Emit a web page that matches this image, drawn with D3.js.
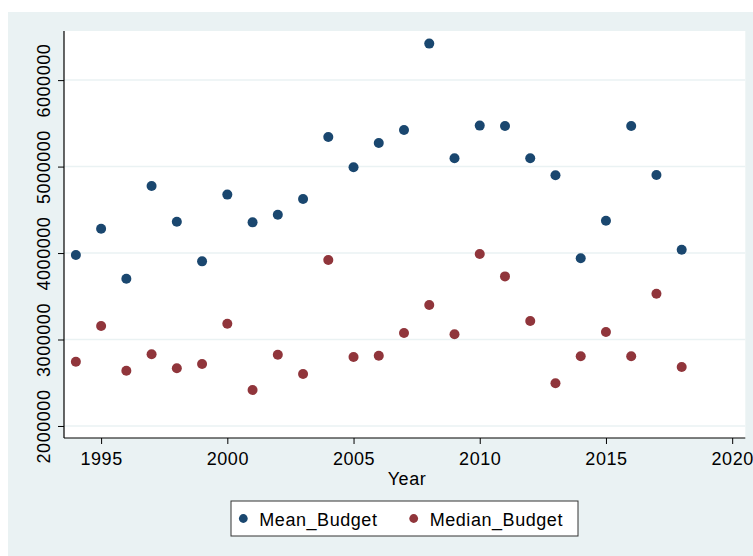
<!DOCTYPE html>
<html>
<head>
<meta charset="utf-8">
<script src="https://cdn.jsdelivr.net/npm/d3@7"></script>
<style>
  html, body { margin: 0; padding: 0; background: #ffffff; }
  svg { display: block; font-family: "Liberation Sans", Arial, Helvetica, sans-serif; }
</style>
</head>
<body>
<svg id="chart" width="753" height="556"></svg>
<script>
const years = [1994,1995,1996,1997,1998,1999,2000,2001,2002,2003,2004,2005,2006,2007,2008,2009,2010,2011,2012,2013,2014,2015,2016,2017,2018];
const meanBudget = [3977000,4281000,3703000,4776000,4362000,3904000,4676000,4355000,4443000,4625000,5342000,4992000,5273000,5423000,6422000,5096000,5474000,5470000,5096000,4900000,3939000,4374000,5469000,4903000,4038000];
const medianBudget = [2743000,3156000,2639000,2829000,2667000,2717000,3183000,2416000,2824000,2601000,3919000,2798000,2813000,3075000,3399000,3060000,3988000,3730000,3215000,2494000,2807000,3087000,2807000,3530000,2682000];
const xTicks = [1995,2000,2005,2010,2015,2020];
const yTicks = [2000000,3000000,4000000,5000000,6000000];
const seriesNames = ["Mean_Budget","Median_Budget"];
const seriesColors = ["#1a476f","#90353b"];

(function () {
const svg = d3.select("#chart");
const W = 753, H = 556;
const FS = "18px", LS = "0.55px";

// outer graph region
svg.append("rect").attr("x", 8).attr("y", 12).attr("width", W - 8).attr("height", H - 12).attr("fill", "#eaf2f3");

const pL = 64, pR = 745.3, pT = 31, pB = 438;
svg.append("rect").attr("x", pL).attr("y", pT).attr("width", pR - pL).attr("height", pB - pT).attr("fill", "#ffffff");

const x = d3.scaleLinear().domain([1993.53, 2020.52]).range([pL, pR]);
const y = d3.scaleLinear().domain([1861000, 6568000]).range([pB, pT]);

// grid lines
svg.append("g").selectAll("line").data(yTicks).join("line")
  .attr("x1", pL).attr("x2", pR)
  .attr("y1", d => y(d)).attr("y2", d => y(d))
  .attr("stroke", "#eaf2f3").attr("stroke-width", 1.5);

// y axis
const yAxis = d3.axisLeft(y).tickValues(yTicks).tickSize(6).tickSizeOuter(0).tickFormat(d3.format("d"));
const gy = svg.append("g").attr("transform", `translate(${pL},0)`).call(yAxis);
gy.select(".domain").attr("stroke", "#000").attr("stroke-width", 1.2).attr("d", `M0,${pT}V${pB}`);
gy.selectAll(".tick line").attr("stroke", "#000").attr("stroke-width", 1);
gy.selectAll(".tick text")
  .attr("x", null).attr("dy", null)
  .attr("transform", "translate(-14,0) rotate(-90)")
  .attr("text-anchor", "middle")
  .attr("font-size", FS).attr("letter-spacing", LS).attr("fill", "#000")
  .attr("font-family", "\"Liberation Sans\", Arial, sans-serif");

// x axis
const xAxis = d3.axisBottom(x).tickValues(xTicks).tickSize(6).tickSizeOuter(0).tickFormat(d3.format("d"));
const gx = svg.append("g").attr("transform", `translate(0,${pB})`).call(xAxis);
gx.select(".domain").attr("stroke", "#000").attr("stroke-width", 1.2).attr("d", `M${pL},0H${pR}`);
gx.selectAll(".tick line").attr("stroke", "#000").attr("stroke-width", 1);
gx.selectAll(".tick text")
  .attr("y", 27).attr("dy", null)
  .attr("font-size", FS).attr("letter-spacing", LS).attr("fill", "#000")
  .attr("font-family", "\"Liberation Sans\", Arial, sans-serif");

// axis title
svg.append("text").attr("x", 407).attr("y", 485)
  .attr("text-anchor", "middle").attr("font-size", FS).attr("letter-spacing", LS).attr("fill", "#000").text("Year");

// points
const series = [meanBudget, medianBudget];
series.forEach((vals, i) => {
  svg.append("g").selectAll("circle").data(years.map((yr, j) => [yr, vals[j]])).join("circle")
    .attr("cx", d => x(d[0])).attr("cy", d => y(d[1])).attr("r", 5)
    .attr("fill", seriesColors[i]);
});

// legend
const lg = svg.append("g");
lg.append("rect").attr("x", 231).attr("y", 501).attr("width", 347).attr("height", 35)
  .attr("fill", "#fff").attr("stroke", "#333").attr("stroke-width", 1);
const legX = [243.3, 413.7];
seriesNames.forEach((name, i) => {
  lg.append("circle").attr("cx", legX[i]).attr("cy", 518.5).attr("r", 4.4).attr("fill", seriesColors[i]);
  lg.append("text").attr("x", legX[i] + 16).attr("y", 525.5).attr("font-size", FS).attr("letter-spacing", LS).attr("fill", "#000").text(name);
});
})();
</script>
</body>
</html>
